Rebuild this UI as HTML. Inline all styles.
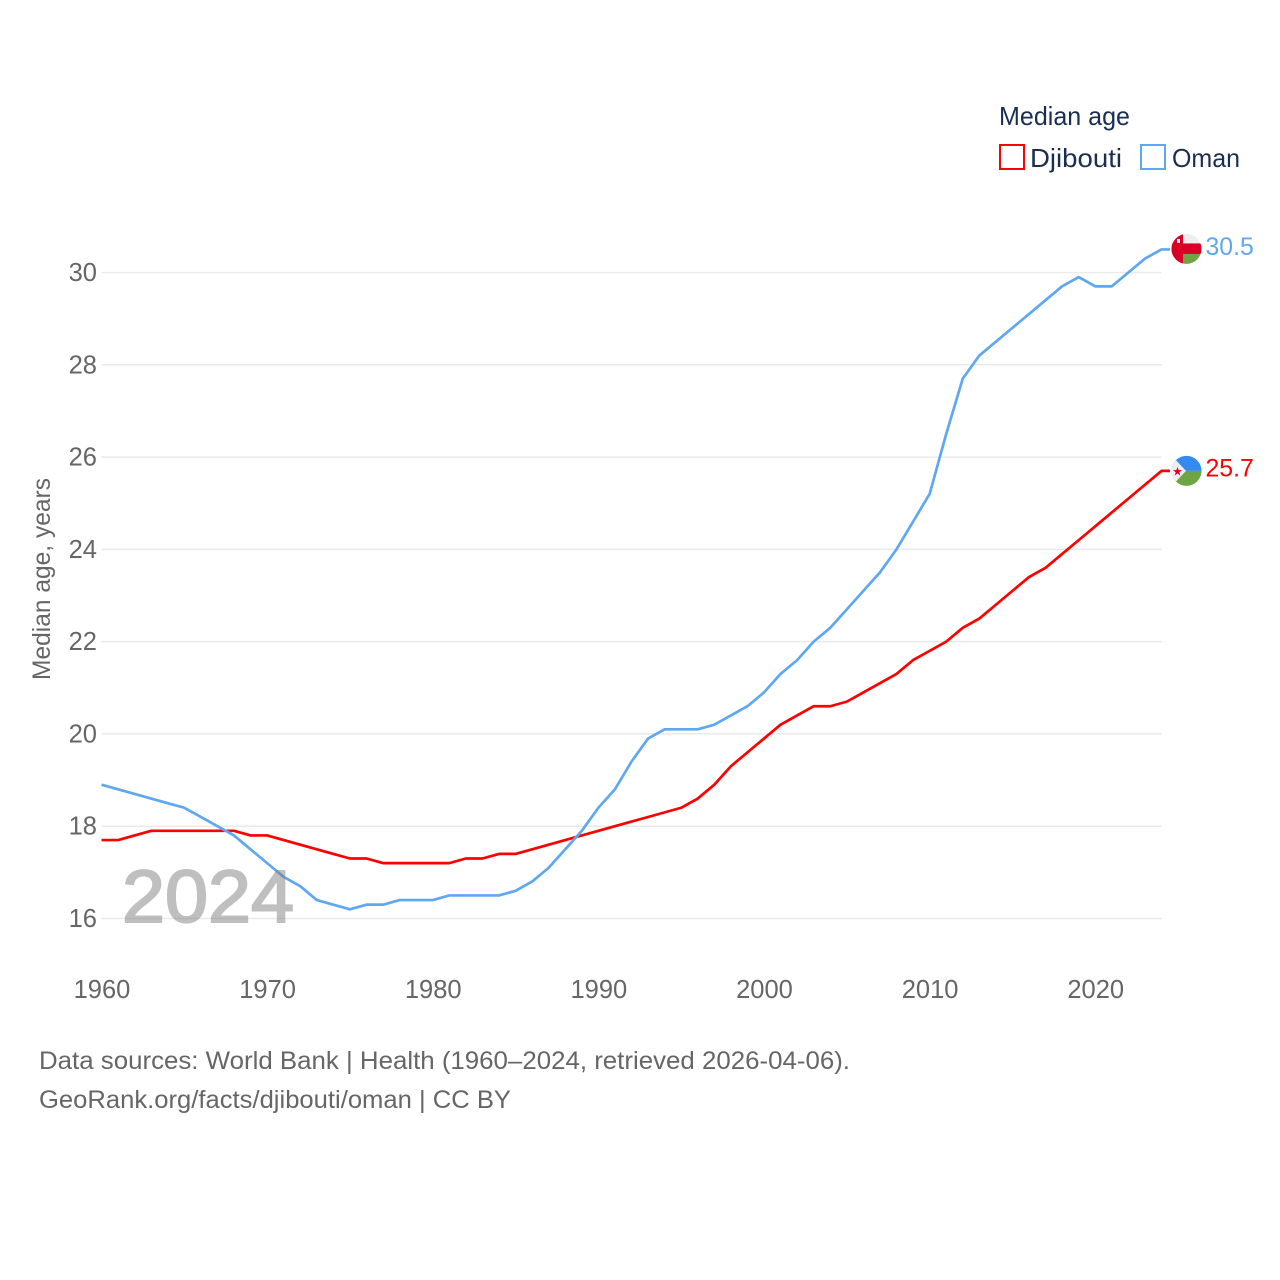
<!DOCTYPE html>
<html lang="en">
<head>
<meta charset="utf-8">
<title>Median age: Djibouti and Oman</title>
<style>
html,body{margin:0;padding:0;background:#fff;}
svg{display:block;font-family:"Liberation Sans",sans-serif;}
</style>
</head>
<body>
<svg id="chart" width="1280" height="1280" viewBox="0 0 1280 1280" xmlns="http://www.w3.org/2000/svg">
  <defs>
    <clipPath id="flag-clip-oman"><circle id="clip-oman" cx="1186.5" cy="249" r="15"></circle></clipPath>
    <clipPath id="flag-clip-djibouti"><circle id="clip-djibouti" cx="1186.5" cy="470.5" r="15"></circle></clipPath>
  </defs>
  <rect width="1280" height="1280" fill="#fff"></rect>
  <g id="grid"></g>
  <g id="y-ticks"></g>
  <g id="x-ticks"></g>
  <text transform="translate(50,680) rotate(-90)" font-size="25" fill="#666" textLength="202" lengthAdjust="spacingAndGlyphs">Median age, years</text>

  <g id="series"></g>
  <g id="flags"></g>
  <g id="values"></g>
  <text id="watermark" x="122" y="922" font-size="74" fill="#808080" stroke="#808080" stroke-width="2" opacity="0.5" textLength="172" lengthAdjust="spacingAndGlyphs"></text>

  <g>
    <text x="999" y="125" font-size="26" fill="#1a2f50" textLength="131" lengthAdjust="spacingAndGlyphs">Median age</text>
    <rect x="1000" y="145" width="24" height="24" fill="none" stroke="#ff0000" stroke-width="2"></rect>
    <text x="1030" y="167" font-size="26" fill="#1a2f50" textLength="92" lengthAdjust="spacingAndGlyphs">Djibouti</text>
    <rect x="1141" y="145" width="24" height="24" fill="none" stroke="#5fa8f0" stroke-width="2"></rect>
    <text x="1172" y="167" font-size="26" fill="#1a2f50" textLength="68" lengthAdjust="spacingAndGlyphs">Oman</text>
  </g>

  <g>
    <text x="39" y="1069" font-size="25" fill="#666" textLength="811" lengthAdjust="spacingAndGlyphs">Data sources: World Bank | Health (1960–2024, retrieved 2026-04-06).</text>
    <text x="39" y="1108" font-size="25" fill="#666" textLength="472" lengthAdjust="spacingAndGlyphs">GeoRank.org/facts/djibouti/oman | CC BY</text>
  </g>
</svg>
<script>
const firstYear = 1960;
const xTickYears = [1960, 1970, 1980, 1990, 2000, 2010, 2020];
const yTickValues = [16, 18, 20, 22, 24, 26, 28, 30];
const djiboutiValues = [17.7,17.7,17.8,17.9,17.9,17.9,17.9,17.9,17.9,17.8,17.8,17.7,17.6,17.5,17.4,17.3,17.3,17.2,17.2,17.2,17.2,17.2,17.3,17.3,17.4,17.4,17.5,17.6,17.7,17.8,17.9,18.0,18.1,18.2,18.3,18.4,18.6,18.9,19.3,19.6,19.9,20.2,20.4,20.6,20.6,20.7,20.9,21.1,21.3,21.6,21.8,22.0,22.3,22.5,22.8,23.1,23.4,23.6,23.9,24.2,24.5,24.8,25.1,25.4,25.7];
const omanValues = [18.9,18.8,18.7,18.6,18.5,18.4,18.2,18.0,17.8,17.5,17.2,16.9,16.7,16.4,16.3,16.2,16.3,16.3,16.4,16.4,16.4,16.5,16.5,16.5,16.5,16.6,16.8,17.1,17.5,17.9,18.4,18.8,19.4,19.9,20.1,20.1,20.1,20.2,20.4,20.6,20.9,21.3,21.6,22.0,22.3,22.7,23.1,23.5,24.0,24.6,25.2,26.5,27.7,28.2,28.5,28.8,29.1,29.4,29.7,29.9,29.7,29.7,30.0,30.3,30.5];

const NS = 'http://www.w3.org/2000/svg';
function xScale(year) { return 101.5 + (year - 1960) * 16.5625; }
function yScale(v) { return 918.5 - (v - 16) * 46.143; }
function make(tag, attrs, parent) {
  const el = document.createElementNS(NS, tag);
  for (const k in attrs) el.setAttribute(k, attrs[k]);
  parent.appendChild(el);
  return el;
}

const gridG = document.getElementById('grid');
const yG = document.getElementById('y-ticks');
yTickValues.forEach(function (v) {
  const line = make('line', { x1: 101.5, x2: 1161.5, y1: yScale(v), y2: yScale(v), stroke: '#eaeaea', 'stroke-width': 1.5 }, gridG);
  
  
  const t = make('text', { x: 97, y: yScale(v) + 8.5, 'text-anchor': 'end', 'font-size': 25.5, fill: '#666' }, yG);
  
  
  t.textContent = v;
});

const xG = document.getElementById('x-ticks');
xTickYears.forEach(function (y) {
  const t = make('text', { x: xScale(y) + 0.5, y: 998, 'text-anchor': 'middle', 'font-size': 25.5, fill: '#666' }, xG);
  
  
  t.textContent = y;
});

function drawSeries(values, color, name) {
  const seriesG = document.getElementById('series');
  const pts = values.map(function (v, i) { return xScale(firstYear + i).toFixed(2) + ',' + yScale(v).toFixed(2); });
  const lastY = yScale(values[values.length - 1]);
  pts.push('1170,' + lastY.toFixed(2));
  const line = make('polyline', { points: pts.join(' '), fill: 'none', stroke: color, 'stroke-width': 2.7, 'stroke-linejoin': 'round' }, seriesG);
  
  
  const label = make('text', { x: 1205.5, y: lastY + 5.5, 'font-size': 24.8, fill: color }, document.getElementById('values'));
  
  
  label.textContent = values[values.length - 1].toFixed(1);
  return lastY;
}

const yDji = drawSeries(djiboutiValues, '#ff0000', 'djibouti');
const yOma = drawSeries(omanValues, '#5fa8f0', 'oman');

document.getElementById('watermark').textContent = firstYear + omanValues.length - 1;

const flagsG = document.getElementById('flags');
const cyO = yOma - 0.5;
document.getElementById('clip-oman').setAttribute('cy', cyO);
const oman = make('g', { 'clip-path': 'url(#flag-clip-oman)' }, flagsG);


make('rect', { x: 1170, y: cyO - 16, width: 34, height: 11, fill: '#eeeeee' }, oman);
make('rect', { x: 1170, y: cyO - 5.5, width: 34, height: 11, fill: '#d80027' }, oman);
make('rect', { x: 1170, y: cyO + 5, width: 34, height: 11, fill: '#6da544' }, oman);
make('rect', { x: 1170, y: cyO - 16, width: 13, height: 32, fill: '#d80027' }, oman);
make('rect', { x: 1177, y: cyO - 10, width: 3, height: 4, fill: '#eeeeee' }, oman);

const cyD = yDji;
document.getElementById('clip-djibouti').setAttribute('cy', cyD);
const dji = make('g', { 'clip-path': 'url(#flag-clip-djibouti)' }, flagsG);


make('rect', { x: 1170, y: cyD - 16, width: 34, height: 16, fill: '#338af3' }, dji);
make('rect', { x: 1170, y: cyD, width: 34, height: 16, fill: '#6da544' }, dji);
make('polygon', { points: '1170,' + (cyD - 17) + ' 1186,' + cyD + ' 1170,' + (cyD + 17), fill: '#eeeeee' }, dji);
const star = make('text', { x: 1177.5, y: cyD + 4.5, 'text-anchor': 'middle', 'font-size': 12, fill: '#d80027', 'font-family': 'DejaVu Sans, sans-serif' }, dji);


star.textContent = '★';
</script>
</body>
</html>
